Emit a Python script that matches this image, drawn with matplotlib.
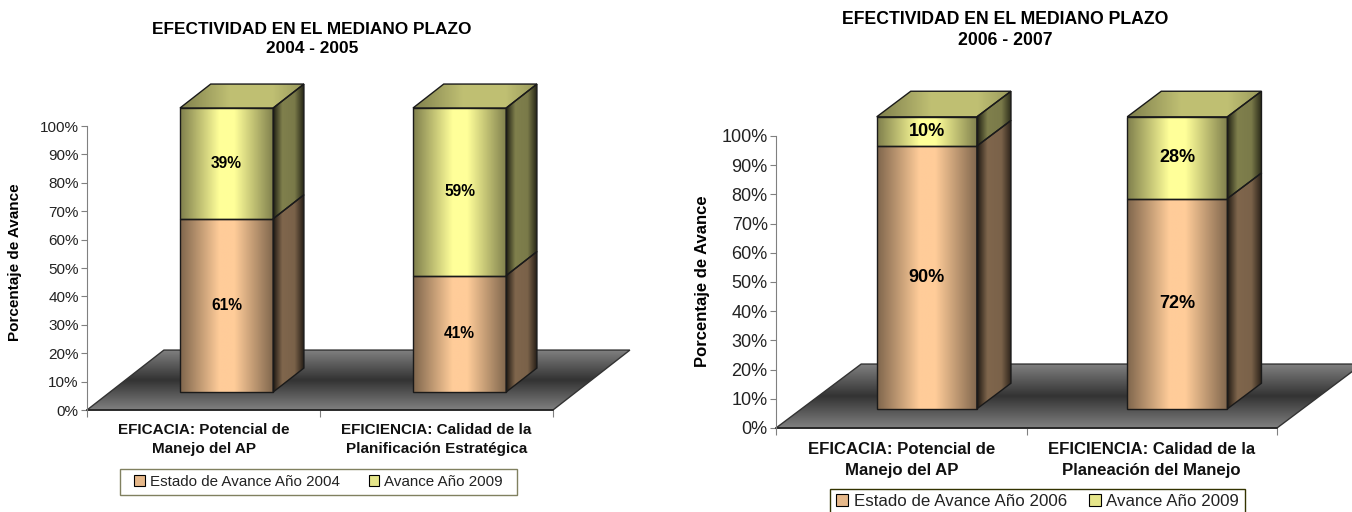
import numpy as np
import matplotlib
matplotlib.use("Agg")
import matplotlib.pyplot as plt
from matplotlib.patches import Patch, Polygon, Rectangle

W, H = 1352, 512

plt.rcParams['font.family'] = ['Liberation Sans', 'DejaVu Sans']

titles_left = "EFECTIVIDAD EN EL MEDIANO PLAZO\n2004 - 2005"
titles_right = "EFECTIVIDAD EN EL MEDIANO PLAZO\n2006 - 2007"
cats_left = ["EFICACIA: Potencial de\nManejo del AP",
             "EFICIENCIA: Calidad de la\nPlanificación Estratégica"]
cats_right = ["EFICACIA: Potencial de\nManejo del AP",
              "EFICIENCIA: Calidad de la\nPlaneación del Manejo"]
base_left = [61, 41]
adv_left = [39, 59]
base_right = [90, 72]
adv_right = [10, 28]
series_left = ["Estado de Avance Año 2004", "Avance Año 2009"]
series_right = ["Estado de Avance Año 2006", "Avance Año 2009"]
yticks = [0, 10, 20, 30, 40, 50, 60, 70, 80, 90, 100]

PEACH = np.array([1.0, 0.8, 0.6])
YELLOW = np.array([1.0, 1.0, 0.6])


def shade(base, stops, levels, n=128):
    # horizontal gradient as an image row
    t = np.linspace(0, 1, n)
    s = np.interp(t, stops, levels)
    return (s[:, None] * base)[None, :, :]


def fill(ax, fig, pts, img):
    xs = [p[0] for p in pts]
    ys = [p[1] for p in pts]
    poly = Polygon(pts, closed=True, fc="none", ec="#1a1a1a", lw=1.0, clip_on=False, zorder=3)
    ax.add_patch(poly)
    im = ax.imshow(img, extent=[min(xs), max(xs), min(ys), max(ys)], aspect="auto",
                   interpolation="bilinear", zorder=2)
    im.set_clip_path(poly)
    im.set_clip_box(fig.bbox)


def draw_chart(fig, box, depth, title, title_xy, cats, base, adv, series, ylabel_xy,
               sizes, legend_box, legend_ec, catpad, colsp):
    x0, x1, ytop, ybot = box
    title_fs, tick_fs, cat_fs, leg_fs, ylab_fs, val_fs = sizes
    ax = fig.add_axes([x0 / W, 1 - ybot / H, (x1 - x0) / W, (ybot - ytop) / H])
    ax.patch.set_visible(False)
    dx, dy = depth

    # floor
    t = np.linspace(0, 1, 128)
    g = np.interp(t, [0, 0.5, 1], [0.5, 0.2, 0.5])
    floor = [(0, 0), (2, 0), (2 + dx, dy), (dx, dy)]
    poly = Polygon(floor, closed=True, fc="none", ec="#333333", lw=1.0, clip_on=False, zorder=1.5)
    ax.add_patch(poly)
    im = ax.imshow(np.repeat(g[:, None, None], 3, axis=2), extent=[0, 2 + dx, 0, dy],
                   aspect="auto", interpolation="bilinear", zorder=1)
    im.set_clip_path(poly)
    im.set_clip_box(fig.bbox)

    z0, z1 = 0.3, 0.7
    bw = 0.4
    for i in range(2):
        left = i + 0.5 - bw / 2 + z0 * dx
        right = left + bw
        sdx = (z1 - z0) * dx
        sdy = (z1 - z0) * dy
        y0 = z0 * dy
        for val, col, bottom in ((base[i], PEACH, 0), (adv[i], YELLOW, base[i])):
            lo = y0 + bottom
            hi = lo + val
            side = [(right, lo), (right + sdx, lo + sdy), (right + sdx, hi + sdy), (right, hi)]
            fill(ax, fig, side, shade(col, [0, 0.3, 0.7, 1], [0.12, 0.5, 0.48, 0.15]))
            front = [(left, lo), (right, lo), (right, hi), (left, hi)]
            fill(ax, fig, front, shade(col, [0, 0.42, 0.58, 1], [0.5, 1, 1, 0.5]))
            ax.text((left + right) / 2, (lo + hi) / 2, f"{val}%", ha="center", va="center",
                    fontsize=val_fs, fontweight="bold", color="black", zorder=4)
        top = y0 + base[i] + adv[i]
        cap = [(left, top), (right, top), (right + sdx, top + sdy), (left + sdx, top + sdy)]
        fill(ax, fig, cap, shade(YELLOW, [0, 0.4, 0.75, 1], [0.5, 0.75, 0.75, 0.6]))

    ax.set_xlim(0, 2)
    ax.set_ylim(0, 100)
    for s in ("top", "right"):
        ax.spines[s].set_visible(False)
    ax.spines["left"].set_color("#808080")
    ax.spines["bottom"].set_color("#222222")
    ax.spines["bottom"].set_linewidth(1.2)
    ax.spines["left"].set_zorder(5)
    ax.set_yticks(yticks)
    ax.set_yticklabels([f"{v}%" for v in yticks], fontsize=tick_fs, color="#222222")
    ax.tick_params(axis="y", length=4, width=0.8, color="#808080", pad=2)
    ax.set_xticks([0, 1, 2])
    ax.set_xticklabels([])
    ax.tick_params(axis="x", which="major", length=5, width=0.8, color="#808080")
    ax.set_xticks([0.5, 1.5], minor=True)
    ax.set_xticklabels(cats, minor=True, fontsize=cat_fs, fontweight="bold", color="#111111",
                       linespacing=1.5)
    ax.tick_params(axis="x", which="minor", length=0, pad=catpad)

    fig.text(title_xy[0] / W, 1 - title_xy[1] / H, title, ha="center", va="center",
             fontsize=title_fs, fontweight="bold", linespacing=1.38)
    fig.text(ylabel_xy[0] / W, 1 - ylabel_xy[1] / H, "Porcentaje de Avance", rotation=90,
             ha="center", va="center", fontsize=ylab_fs, fontweight="bold")

    # legend frame drawn apart, so its width does not depend on the entries
    lx0, lx1, ly0, ly1 = legend_box
    fig.add_artist(Rectangle((lx0 / W, 1 - ly1 / H), (lx1 - lx0) / W, (ly1 - ly0) / H,
                             transform=fig.transFigure, fc="white", ec=legend_ec, lw=1.0))
    handles = [Patch(fc=PEACH * 0.9, ec="black", lw=0.8), Patch(fc=YELLOW * 0.9, ec="black", lw=0.8)]
    leg = fig.legend(handles, series, ncol=2, loc="center",
                     bbox_to_anchor=((lx0 + lx1) / 2 / W, 1 - (ly0 + ly1) / 2 / H),
                     bbox_transform=fig.transFigure, fontsize=leg_fs, frameon=False,
                     handlelength=0.7, handleheight=0.7, handletextpad=0.35,
                     columnspacing=colsp, borderpad=0, borderaxespad=0)
    for txt in leg.get_texts():
        txt.set_color("#222222")


fig = plt.figure(figsize=(W / 100, H / 100), dpi=100, facecolor="white")

draw_chart(fig, (87, 553, 126, 410), (0.33, 21.1), titles_left, (312, 39), cats_left,
           base_left, adv_left, series_left, (15, 262), (12.4, 11, 11, 10.9, 11, 11.2),
           (120, 517, 469, 495), "#808060", 9, 1.9)
draw_chart(fig, (776, 1277, 136, 428), (0.34, 21.9), titles_right, (1005, 30), cats_right,
           base_right, adv_right, series_right, (703, 281), (12.7, 13, 12.1, 12.2, 12, 13),
           (830, 1245, 489, 513), "#333300", 10, 1.3)

fig.savefig("out.png", dpi=100)
